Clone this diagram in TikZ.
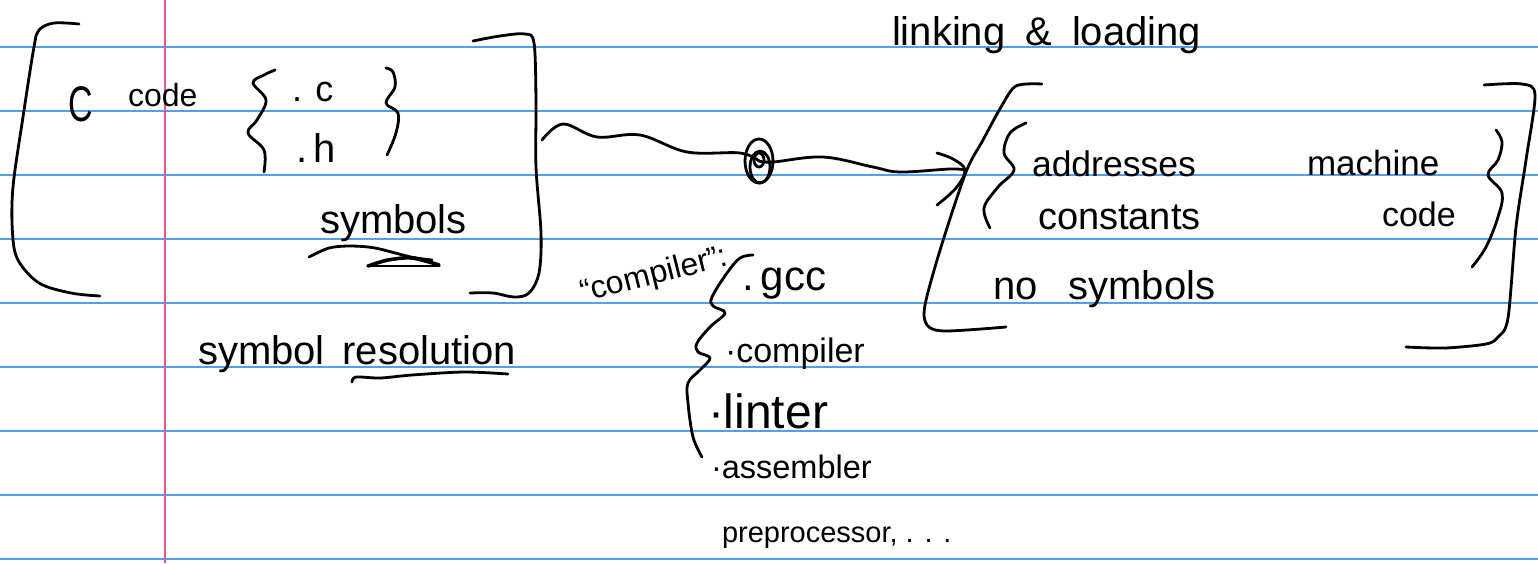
\documentclass[tikz,border=0pt]{standalone}
\usepackage{fontspec}
\setmainfont{Liberation Sans}
\usepackage{graphicx}
\definecolor{rulecol}{RGB}{82,158,240}
\definecolor{margincol}{RGB}{245,78,170}
\begin{document}
\begin{tikzpicture}[x=1pt,y=-1pt,
  ink/.style={line width=2.8pt,line cap=round,line join=round,black},
  hw/.style={inner sep=0pt,outer sep=0pt,anchor=base west,font=\fontsize{#1}{#1}\selectfont},
  rule/.style={draw=rulecol,line width=1.5pt},
  marginline/.style={draw=margincol,line width=2pt}]
\useasboundingbox[fill=white] (0,0) rectangle (1538,563);
% paper
\foreach \yy in {47,111,...,559} \draw[rule] (0,\yy) -- (1538,\yy);
\draw[marginline] (165,0) -- (165,563);

% ---- left box (C code)
\draw[ink] plot[smooth,tension=0.55] coordinates {(79,24) (54,23) (39,30) (34,47) (23,117) (13,187) (12.5,233) (18,260) (39,283) (71,293) (100,296)};
\draw[ink] plot[smooth,tension=0.55] coordinates {(473,41) (500,36) (525,34) (534,43) (536,100) (536,167) (541,233) (539,273) (529,293) (514,297) (493,293) (470,293)};
\draw[ink] plot[smooth,tension=0.6] coordinates {(275,70) (264,75) (253,83) (266,100) (257,120) (248,133) (264,150) (264,172)};
\draw[ink] plot[smooth,tension=0.6] coordinates {(386,68) (393,72) (395,87) (386,103) (398,113) (396,133) (387,155)};

\node[hw=50] (Cl) at (68,121) {\scalebox{0.68}[1]{C}};
\node[hw=32] (code1) at (128,106) {code};
\node[hw=36] (dotc) at (292,101) {. c};
\node[hw=40] (doth) at (296,162) {.\,h};
\node[hw=40] (sym1) at (320,233) {symbols};
\draw[ink] plot[smooth] coordinates {(309,257) (329,248) (350,246) (375,248) (411,257) (432,260)};
\draw[ink,line width=3.6pt] plot[smooth] coordinates {(368,266) (388,260) (412,258) (439,265)};
\draw[ink] (368,266) -- (439,266);

\node[hw=40] (symres) at (198,364) {symbol\hspace{0.45em}resolution};
\draw[ink] plot[smooth] coordinates {(352,382) (356,377) (380,378) (412,375) (464,372) (508,374)};

% ---- arrow with scribble
\coordinate (a1) at (542,140);
\node[circle,inner sep=0pt,minimum size=30pt] (hub) at (759,161) {};
\coordinate (a2) at (965,170);
\draw[ink] plot[smooth,tension=0.6] coordinates {(a1) (563,124) (597,137) (640,135) (687,152) (740,153) (hub.center)};
\draw[ink] plot[smooth,tension=0.6] coordinates {(hub.center) (773,162) (823,157) (873,167) (900,172) (950,169) (a2)};
\draw[ink] plot[smooth,tension=0.6] coordinates {(937,153) (953,159) (a2) (956,188) (937,205)};
\draw[ink] (hub.center) ellipse [x radius=14, y radius=22];
\draw[ink] (760,167) ellipse [x radius=10, y radius=16];
\draw[ink] (759,160) ellipse [x radius=5, y radius=7];

\node[hw=40] (link) at (892,45) {linking\hspace{0.5em}\&\hspace{0.5em}loading};

% ---- right box
\draw[ink] plot[smooth,tension=0.5] coordinates {(1042,84) (1016,86) (1001,107) (983,140) (966,172) (941,247) (925,305) (927,325) (945,331) (1006,327)};
\draw[ink] plot[smooth,tension=0.5] coordinates {(1484,85) (1522,84) (1535,95) (1526,160) (1516,227) (1508,318) (1498,337) (1486,344) (1445,348) (1406,347)};
\draw[ink] plot[smooth,tension=0.6] coordinates {(1026,123) (1010,133) (1004,153) (1014,170) (998,187) (984,208) (990,228)};
\draw[ink] plot[smooth,tension=0.6] coordinates {(1496,130) (1502,142) (1498,160) (1488,175) (1502,193) (1498,217) (1486,247) (1472,267)};

\node[hw=35.5] (addr) at (1032,176) {addresses};
\node[hw=38] (const) at (1038,229) {constants};
\node[hw=35] (mach) at (1307,175) {machine};
\node[hw=34] (code2) at (1382,226) {code};
\node[hw=40] (nosym) at (993,299) {no\hspace{0.78em}symbols};

% ---- compiler list
\node[hw=32,rotate=14] (comp) at (583,302) {“compiler”:};
\draw[ink] plot[smooth,tension=0.6] coordinates {(753,255) (740,258) (727,273) (712,297) (713,306) (725,313) (710,327) (697,343) (698,352) (710,358) (700,370) (688,383) (688,403) (693,437) (702,457)};
\node[hw=42] (gcc) at (742,290) {.\,gcc};
\node[hw=34] (comp2) at (725,362) {·compiler};
\node[hw=48] (lint) at (708,428) {·linter};
\node[hw=32.5] (asm) at (711,478) {·assembler};
\node[hw=29] (prep) at (722,542) {preprocessor, . . .};
\end{tikzpicture}
\end{document}
